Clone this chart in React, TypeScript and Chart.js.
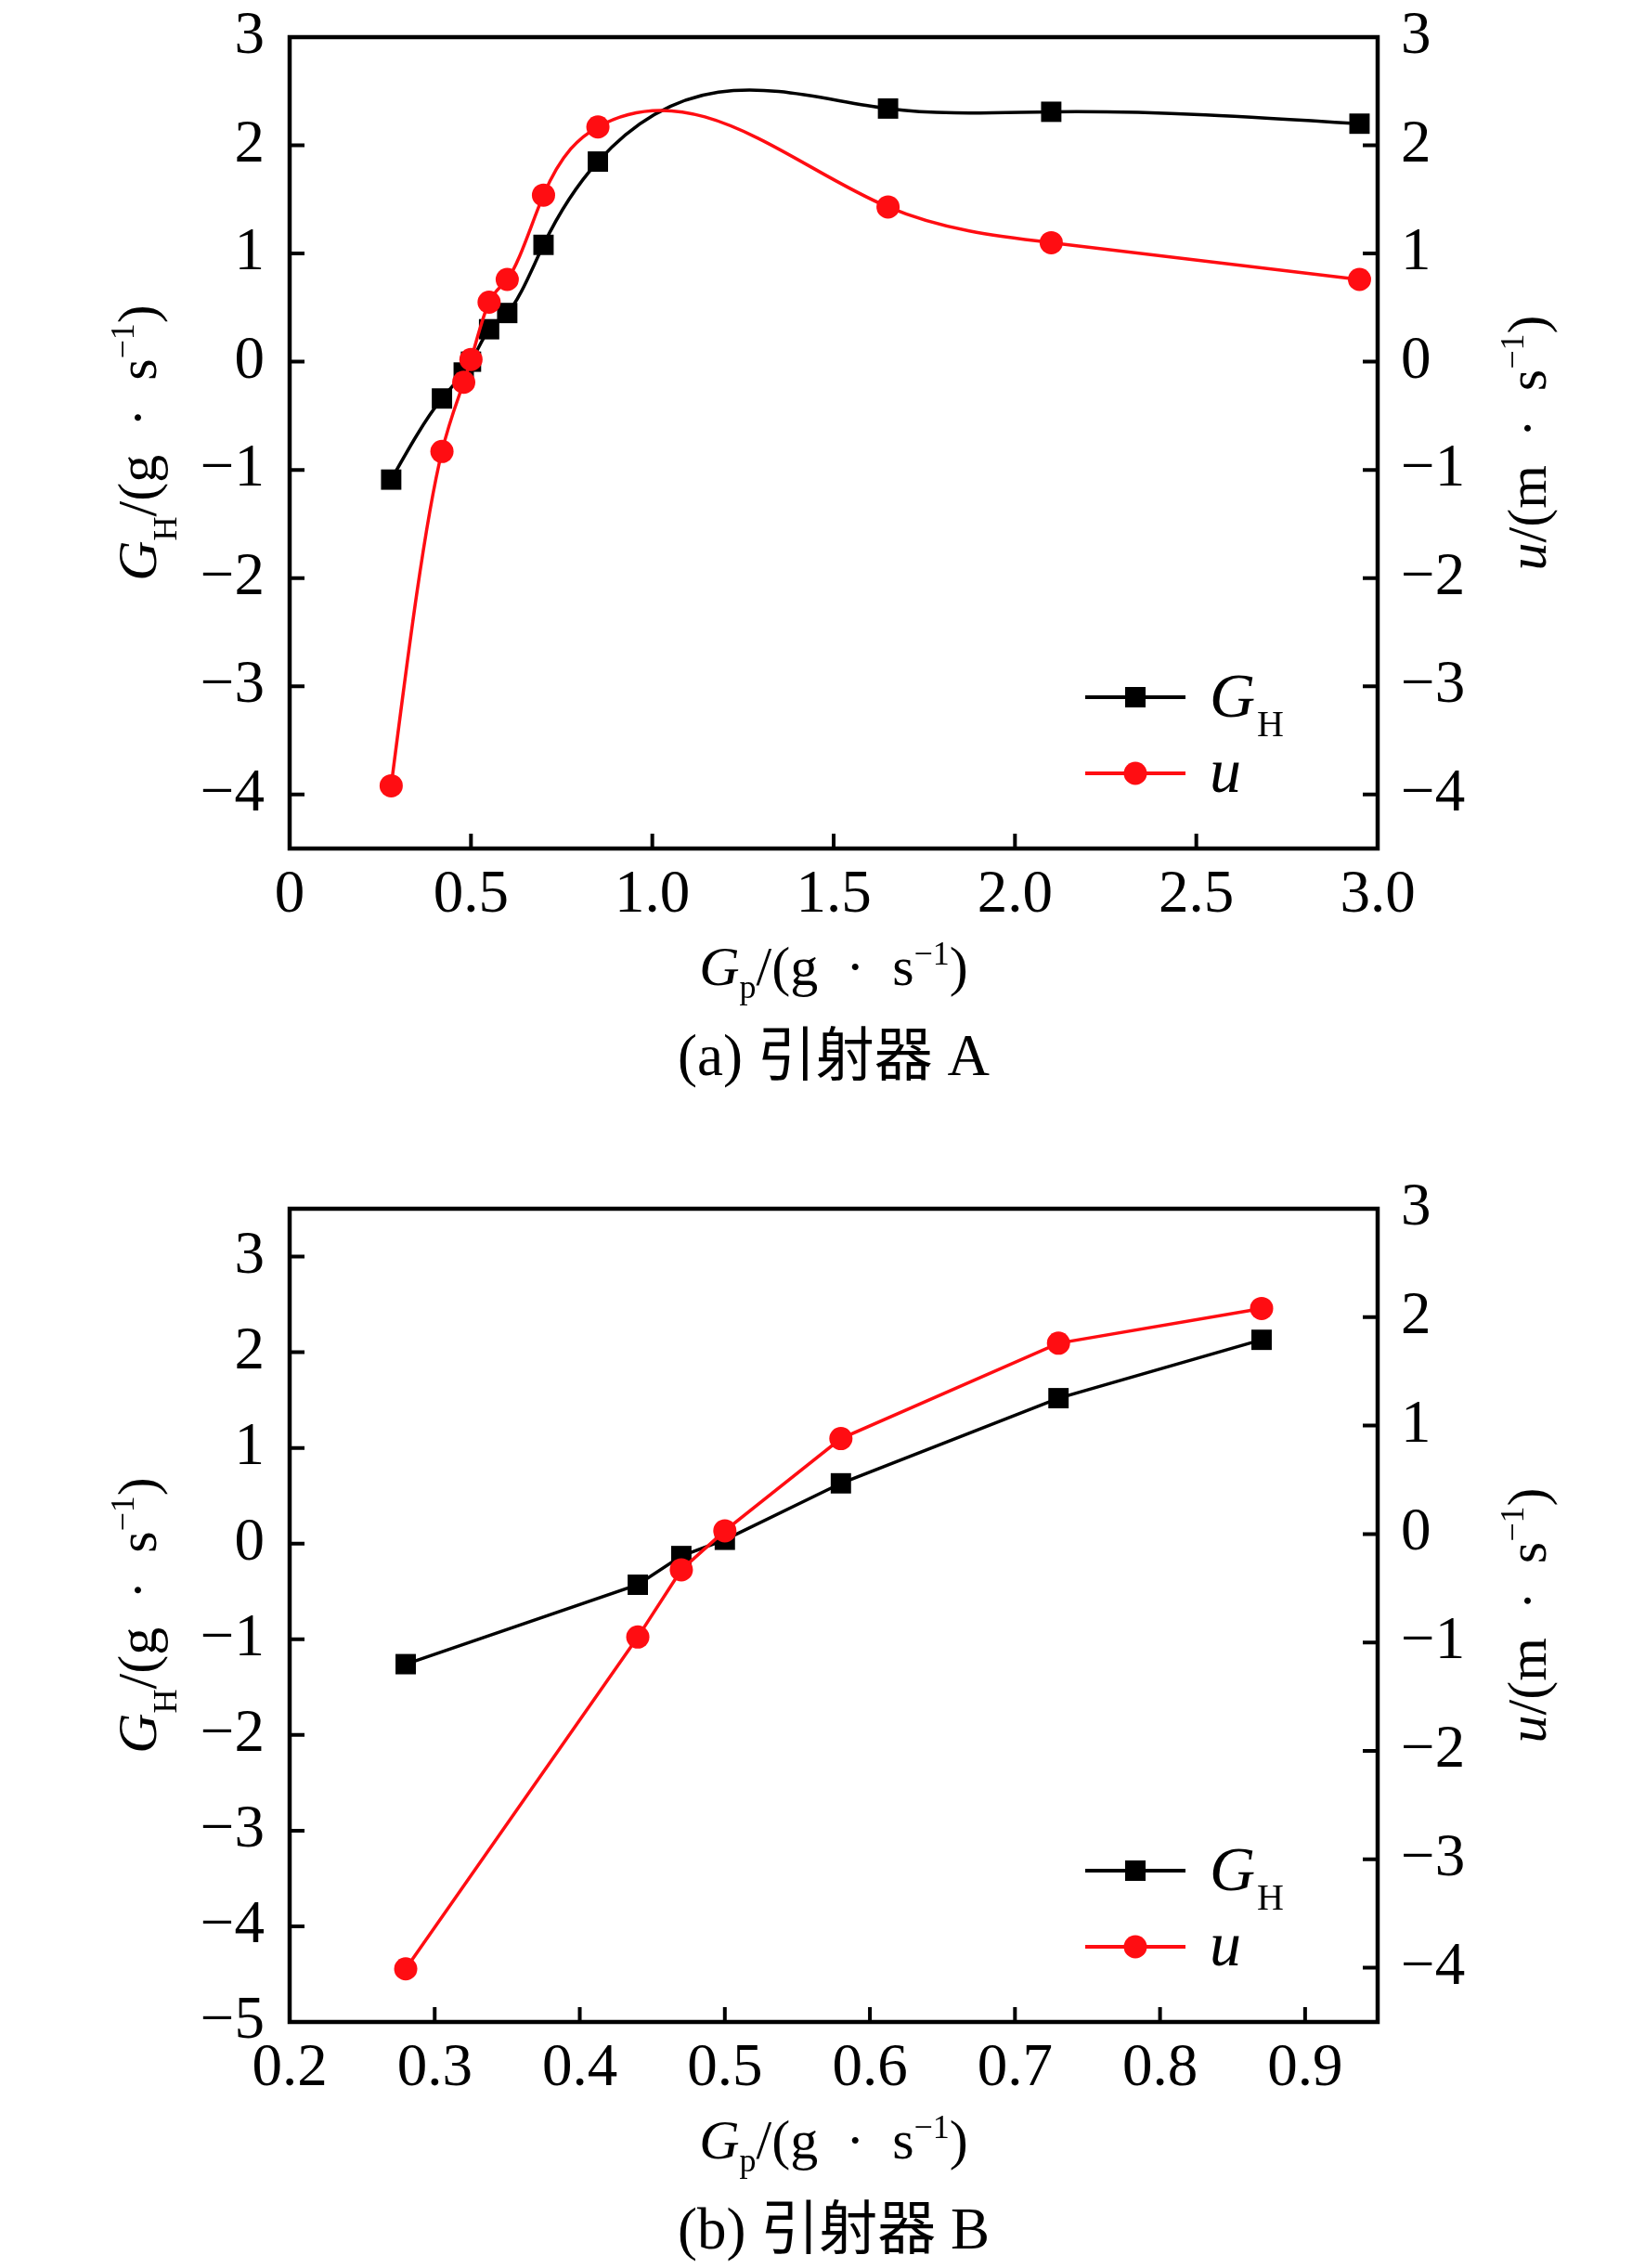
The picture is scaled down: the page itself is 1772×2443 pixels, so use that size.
import { useEffect, useRef } from "react";
import { Chart, registerables } from "chart.js";

Chart.register(...registerables);

// (a) 引射器 A
const gpA = [0.28, 0.42, 0.48, 0.5, 0.55, 0.6, 0.7, 0.85, 1.65, 2.1, 2.95];
const ghA = [-1.09, -0.34, -0.1, 0.0, 0.3, 0.45, 1.08, 1.85, 2.34, 2.31, 2.2];
const uA = [-3.92, -0.83, -0.19, 0.02, 0.55, 0.76, 1.54, 2.17, 1.43, 1.1, 0.76];

// (b) 引射器 B
const gpB = [0.28, 0.44, 0.47, 0.5, 0.58, 0.73, 0.87];
const ghB = [-1.26, -0.43, -0.13, 0.04, 0.63, 1.52, 2.13];
const uB = [-4.01, -0.95, -0.33, 0.03, 0.88, 1.76, 2.08];

// tick values
const xTicksA = [0, 0.5, 1, 1.5, 2, 2.5, 3];
const yTicksA = [-4, -3, -2, -1, 0, 1, 2, 3];
const y1TicksA = [-4, -3, -2, -1, 0, 1, 2, 3];
const xTicksB = [0.2, 0.3, 0.4, 0.5, 0.6, 0.7, 0.8, 0.9];
const yTicksB = [-5, -4, -3, -2, -1, 0, 1, 2, 3];
const y1TicksB = [-4, -3, -2, -1, 0, 1, 2, 3];

const SERIF = '"Liberation Serif", "Times New Roman", serif';
const CAPTION_FONT = '"Liberation Serif", "Noto Sans CJK SC", serif';
const RED = "#ff0d12";

type Run = { t: string; f: string; dy?: number };

function drawRuns(ctx: CanvasRenderingContext2D, runs: Run[], x: number, y: number, rotate: boolean) {
  ctx.save();
  ctx.translate(x, y);
  if (rotate) ctx.rotate(-Math.PI / 2);
  ctx.textBaseline = "alphabetic";
  ctx.textAlign = "left";
  let total = 0;
  for (const r of runs) {
    ctx.font = r.f;
    total += ctx.measureText(r.t).width;
  }
  let cx = -total / 2;
  for (const r of runs) {
    ctx.font = r.f;
    ctx.fillText(r.t, cx, r.dy || 0);
    cx += ctx.measureText(r.t).width;
  }
  ctx.restore();
}

const minus = (v: number) => String(v).replace("-", "\u2212");

type Spec = {
  h: number;
  top: number;
  bottom: number;
  xs: number[];
  gh: number[];
  u: number[];
  xMin: number;
  xMax: number;
  xTicks: number[];
  xFmt: (v: number) => string;
  yMin: number;
  yMax: number;
  yTicks: number[];
  y1Min: number;
  y1Max: number;
  y1Ticks: number[];
  smooth: boolean;
  caption: string;
};

const specA: Spec = {
  h: 1221,
  top: 40,
  bottom: 914,
  xs: gpA,
  gh: ghA,
  u: uA,
  xMin: 0,
  xMax: 3,
  xTicks: xTicksA,
  xFmt: (v) => (v === 0 ? "0" : v.toFixed(1)),
  yMin: -4.5,
  yMax: 3,
  yTicks: yTicksA,
  y1Min: -4.5,
  y1Max: 3,
  y1Ticks: y1TicksA,
  smooth: true,
  caption: "(a) 引射器 A",
};

const specB: Spec = {
  h: 1222,
  top: 81,
  bottom: 957,
  xs: gpB,
  gh: ghB,
  u: uB,
  xMin: 0.2,
  xMax: 0.95,
  xTicks: xTicksB,
  xFmt: (v) => v.toFixed(1),
  yMin: -5,
  yMax: 3.5,
  yTicks: yTicksB,
  y1Min: -4.5,
  y1Max: 3,
  y1Ticks: y1TicksB,
  smooth: false,
  caption: "(b) 引射器 B",
};

// natural cubic spline through the point elements (Origin-like spline connection)
const splinePlugin = {
  id: "naturalSpline",
  beforeDatasetDraw(chart: any, args: any) {
    if (!chart.options.plugins.naturalSpline?.enabled) return;
    const pts = args.meta.data;
    const n = pts.length;
    if (n < 3) return;
    const xs = pts.map((p: any) => p.x);
    const ys = pts.map((p: any) => p.y);
    const h: number[] = [];
    for (let i = 0; i < n - 1; i++) h.push(xs[i + 1] - xs[i]);
    const m = n - 2;
    const a: number[] = [], b: number[] = [], c: number[] = [], d: number[] = [];
    for (let i = 1; i < n - 1; i++) {
      a.push(h[i - 1]);
      b.push(2 * (h[i - 1] + h[i]));
      c.push(h[i]);
      d.push(6 * ((ys[i + 1] - ys[i]) / h[i] - (ys[i] - ys[i - 1]) / h[i - 1]));
    }
    for (let i = 1; i < m; i++) {
      const w = a[i] / b[i - 1];
      b[i] -= w * c[i - 1];
      d[i] -= w * d[i - 1];
    }
    const M = new Array(n).fill(0);
    const sol = new Array(m).fill(0);
    sol[m - 1] = d[m - 1] / b[m - 1];
    for (let i = m - 2; i >= 0; i--) sol[i] = (d[i] - c[i] * sol[i + 1]) / b[i];
    for (let i = 0; i < m; i++) M[i + 1] = sol[i];
    for (let i = 0; i < n - 1; i++) {
      const hi = h[i];
      const sl = (ys[i + 1] - ys[i]) / hi;
      const s0 = sl - (hi * (2 * M[i] + M[i + 1])) / 6;
      const s1 = sl + (hi * (M[i] + 2 * M[i + 1])) / 6;
      pts[i].cp2x = xs[i] + hi / 3;
      pts[i].cp2y = ys[i] + (s0 * hi) / 3;
      pts[i + 1].cp1x = xs[i + 1] - hi / 3;
      pts[i + 1].cp1y = ys[i + 1] - (s1 * hi) / 3;
    }
    pts[0].cp1x = xs[0];
    pts[0].cp1y = ys[0];
    pts[n - 1].cp2x = xs[n - 1];
    pts[n - 1].cp2y = ys[n - 1];
    args.meta.dataset._pointsUpdated = true;
    args.meta.dataset._path = undefined;
  },
};

function makeFrame(spec: Spec) {
  return {
    id: "frame",
    afterDraw(chart: any) {
      const { ctx, chartArea: ar, scales } = chart;
      ctx.save();
      ctx.strokeStyle = "#000";
      ctx.fillStyle = "#000";
      ctx.lineWidth = 4.5;
      ctx.strokeRect(ar.left, ar.top, ar.right - ar.left, ar.bottom - ar.top);

      // inward tick marks
      ctx.lineWidth = 4;
      ctx.beginPath();
      for (const t of scales.x.ticks) {
        const p = scales.x.getPixelForValue(t.value);
        ctx.moveTo(p, ar.bottom);
        ctx.lineTo(p, ar.bottom - 16);
      }
      for (const t of scales.y.ticks) {
        const p = scales.y.getPixelForValue(t.value);
        ctx.moveTo(ar.left, p);
        ctx.lineTo(ar.left + 16, p);
      }
      for (const t of scales.y1.ticks) {
        const p = scales.y1.getPixelForValue(t.value);
        ctx.moveTo(ar.right, p);
        ctx.lineTo(ar.right - 16, p);
      }
      ctx.stroke();

      const cxm = (ar.left + ar.right) / 2;
      const cym = (ar.top + ar.bottom) / 2;
      const main = `60px ${SERIF}`;
      const ital = `italic 60px ${SERIF}`;
      const small = `36px ${SERIF}`;

      // x title
      drawRuns(
        ctx,
        [
          { t: "G", f: ital },
          { t: "p", f: small, dy: 14 },
          { t: "/(g  \u00b7  s", f: main },
          { t: "\u22121", f: small, dy: -22 },
          { t: ")", f: main },
        ],
        cxm,
        ar.bottom + 147,
        false
      );
      // left title
      drawRuns(
        ctx,
        [
          { t: "G", f: ital },
          { t: "H", f: small, dy: 22 },
          { t: "/(g  \u00b7  s", f: main },
          { t: "\u22121", f: small, dy: -24 },
          { t: ")", f: main },
        ],
        168,
        cym,
        true
      );
      // right title
      drawRuns(
        ctx,
        [
          { t: "u", f: ital },
          { t: "/(m  \u00b7  s", f: main },
          { t: "\u22121", f: small, dy: -24 },
          { t: ")", f: main },
        ],
        1665,
        cym,
        true
      );

      // caption
      ctx.font = `63px ${CAPTION_FONT}`;
      ctx.textAlign = "center";
      ctx.textBaseline = "alphabetic";
      ctx.fillText(spec.caption, cxm, ar.bottom + 244);

      // legend
      const lx0 = ar.left + 857;
      const lx1 = ar.left + 965;
      const mx = ar.left + 911;
      const tx = ar.left + 991;
      const r1 = ar.bottom - 163;
      const r2 = ar.bottom - 81;
      ctx.lineWidth = 4;
      ctx.strokeStyle = "#000";
      ctx.beginPath();
      ctx.moveTo(lx0, r1);
      ctx.lineTo(lx1, r1);
      ctx.stroke();
      ctx.fillStyle = "#000";
      ctx.fillRect(mx - 11, r1 - 11, 22, 22);
      ctx.strokeStyle = RED;
      ctx.beginPath();
      ctx.moveTo(lx0, r2);
      ctx.lineTo(lx1, r2);
      ctx.stroke();
      ctx.fillStyle = RED;
      ctx.beginPath();
      ctx.arc(mx, r2, 12.5, 0, Math.PI * 2);
      ctx.fill();

      ctx.fillStyle = "#000";
      ctx.textAlign = "left";
      ctx.font = `italic 68px ${SERIF}`;
      ctx.fillText("G", tx, r1 + 21);
      const gw = ctx.measureText("G").width;
      ctx.font = `40px ${SERIF}`;
      ctx.fillText("H", tx + gw + 2, r1 + 42);
      ctx.font = `italic 68px ${SERIF}`;
      ctx.fillText("u", tx, r2 + 20);
      ctx.restore();
    },
  };
}

// keep the plot box exactly where the reference has it
const zeroPad = (s: any) => {
  s.paddingTop = 0;
  s.paddingBottom = 0;
  s.paddingLeft = 0;
  s.paddingRight = 0;
};

function Panel({ spec, top }: { spec: Spec; top: number }) {
  const chartRef = useRef<HTMLCanvasElement | null>(null);
  const chartInstanceRef = useRef<Chart | null>(null);

  useEffect(() => {
    const canvas = chartRef.current;
    if (!canvas) return;
    if (chartInstanceRef.current) chartInstanceRef.current.destroy();

    const tickFont = { family: SERIF, size: 65, lineHeight: 1 };
    const hidden = { display: false, drawTicks: false };
    const noBorder = { display: false };

    chartInstanceRef.current = new Chart(canvas, {
      type: "line",
      data: {
        datasets: [
          {
            label: "GH",
            data: spec.xs.map((x, i) => ({ x, y: spec.gh[i] })),
            yAxisID: "y",
            borderColor: "#000",
            backgroundColor: "#000",
            borderWidth: 3.5,
            pointStyle: "rect",
            pointRadius: 15.5,
            pointBorderWidth: 0,
            tension: spec.smooth ? 0.4 : 0,
            order: 2,
          },
          {
            label: "u",
            data: spec.xs.map((x, i) => ({ x, y: spec.u[i] })),
            yAxisID: "y1",
            borderColor: RED,
            backgroundColor: RED,
            borderWidth: 3.5,
            pointStyle: "circle",
            pointRadius: 12.5,
            pointBorderWidth: 0,
            tension: spec.smooth ? 0.4 : 0,
            order: 1,
          },
        ],
      },
      options: {
        responsive: false,
        animation: false,
        devicePixelRatio: 1,
        layout: { padding: { top: spec.top, left: 0, right: 0, bottom: 0 } },
        scales: {
          x: {
            type: "linear",
            min: spec.xMin,
            max: spec.xMax,
            afterBuildTicks: (s: any) => {
              s.ticks = spec.xTicks.map((value) => ({ value }));
            },
            afterFit: (s: any) => {
              s.height = spec.h - spec.bottom;
              zeroPad(s);
            },
            ticks: {
              autoSkip: false,
              maxRotation: 0,
              padding: 18,
              color: "#000",
              font: tickFont,
              callback: (v: any) => spec.xFmt(Number(v)),
            },
            grid: hidden,
            border: noBorder,
          },
          y: {
            type: "linear",
            position: "left",
            min: spec.yMin,
            max: spec.yMax,
            afterBuildTicks: (s: any) => {
              s.ticks = spec.yTicks.map((value) => ({ value }));
            },
            afterFit: (s: any) => {
              s.width = 312;
              zeroPad(s);
            },
            ticks: {
              autoSkip: false,
              padding: 27,
              color: "#000",
              font: tickFont,
              callback: (v: any) => minus(Number(v)),
            },
            grid: hidden,
            border: noBorder,
          },
          y1: {
            type: "linear",
            position: "right",
            min: spec.y1Min,
            max: spec.y1Max,
            afterBuildTicks: (s: any) => {
              s.ticks = spec.y1Ticks.map((value) => ({ value }));
            },
            afterFit: (s: any) => {
              s.width = 288;
              zeroPad(s);
            },
            ticks: {
              autoSkip: false,
              padding: 25,
              color: "#000",
              font: tickFont,
              callback: (v: any) => minus(Number(v)),
            },
            grid: hidden,
            border: noBorder,
          },
        },
        plugins: {
          legend: { display: false },
          tooltip: { enabled: false },
          naturalSpline: { enabled: spec.smooth },
        } as any,
      },
      plugins: [splinePlugin, makeFrame(spec)],
    } as any);

    return () => {
      if (chartInstanceRef.current) {
        chartInstanceRef.current.destroy();
        chartInstanceRef.current = null;
      }
    };
  }, [spec]);

  return (
    <canvas
      ref={chartRef}
      width={1772}
      height={spec.h}
      style={{ position: "absolute", left: 0, top, width: 1772, height: spec.h, display: "block" }}
    />
  );
}

export default function App() {
  return (
    <div style={{ position: "absolute", left: 0, top: 0, width: 1772, height: 2443, background: "#fff" }}>
      <Panel spec={specA} top={0} />
      <Panel spec={specB} top={1221} />
    </div>
  );
}
